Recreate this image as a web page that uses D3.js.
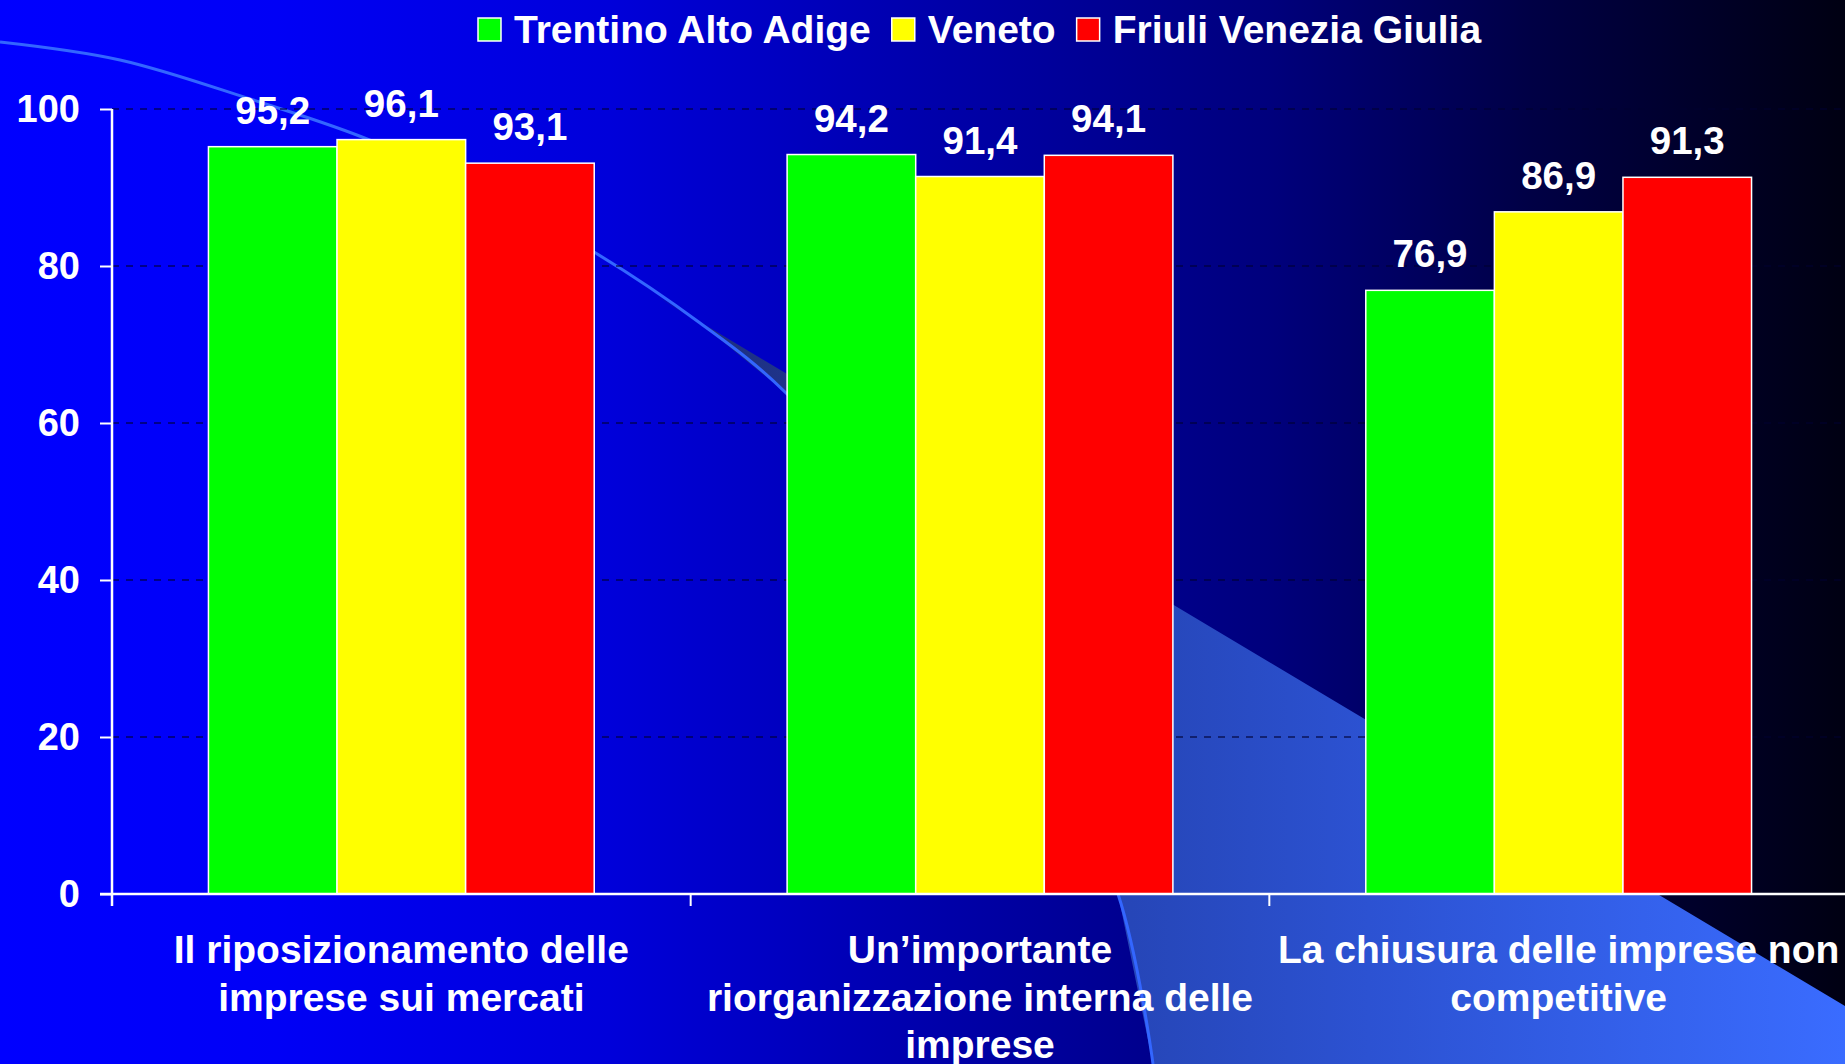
<!DOCTYPE html>
<html>
<head>
<meta charset="utf-8">
<script src="https://cdn.jsdelivr.net/npm/d3@7"></script>
<style>
  html, body { margin: 0; padding: 0; background: #000; }
  svg { display: block; }
  text { font-family: "Liberation Sans", Arial, sans-serif; font-weight: bold; fill: #ffffff; }
</style>
</head>
<body>
<svg id="chart" width="1845" height="1064"></svg>
<script>
// ---- data ----
const categories = [
  "Il riposizionamento delle imprese sui mercati",
  "Un’importante riorganizzazione interna delle imprese",
  "La chiusura delle imprese non competitive"
];
const categoryLines = [
  ["Il riposizionamento delle", "imprese sui mercati"],
  ["Un’importante", "riorganizzazione interna delle", "imprese"],
  ["La chiusura delle imprese non", "competitive"]
];
const seriesNames = ["Trentino Alto Adige", "Veneto", "Friuli Venezia Giulia"];
const trentinoValues = [95.2, 94.2, 76.9];
const venetoValues = [96.1, 91.4, 86.9];
const friuliValues = [93.1, 94.1, 91.3];
const seriesColors = ["#00ff00", "#ffff00", "#ff0000"];
const yTickValues = [0, 20, 40, 60, 80, 100];

const seriesValues = [trentinoValues, venetoValues, friuliValues];

// ---- layout ----
const W = 1845, H = 1064;
const plot = { left: 112, right: 1848, top: 109, bottom: 894 };
const svg = d3.select("#chart");
const defs = svg.append("defs");

// background gradient
const bg = defs.append("linearGradient").attr("id", "bg")
  .attr("gradientUnits", "userSpaceOnUse").attr("x1", 0).attr("y1", 0).attr("x2", W).attr("y2", 0);
[[0, "#0000ff"], [0.15, "#0000f6"], [0.33, "#0000da"], [0.5, "#0000ac"], [0.69, "#00007c"], [0.83, "#000045"], [1, "#000012"]]
  .forEach(([o, c]) => bg.append("stop").attr("offset", o).attr("stop-color", c));
svg.append("rect").attr("width", W).attr("height", H).attr("fill", "url(#bg)");

// decorative wedge gradient
const wg = defs.append("linearGradient").attr("id", "wedge")
  .attr("gradientUnits", "userSpaceOnUse").attr("x1", 655).attr("y1", 0).attr("x2", W).attr("y2", 0);
[[0, "#1c2c78"], [0.4, "#2646b8"], [0.6, "#2c52d2"], [1, "#3a6cff"]]
  .forEach(([o, c]) => wg.append("stop").attr("offset", o).attr("stop-color", c));

// decorative arc (template artwork)
const arcPts = [[0, 42], [120, 60], [250, 99], [362, 137], [480, 190], [594, 252], [700, 323], [785, 392], [1000, 640], [1118, 894], [1153, 1064]];
const arcLine = d3.line().curve(d3.curveCatmullRom.alpha(0.5));
const wedgeArc = arcPts.filter(p => p[0] >= 655);
const wedgePts = [[655, 295]].concat(wedgeArc, [[W, H], [W, 1006]]);
svg.append("path").attr("d", d3.line().curve(d3.curveLinear)(wedgePts) + "Z")
  .attr("fill", "url(#wedge)");
svg.append("path").attr("d", arcLine(arcPts)).attr("fill", "none")
  .attr("stroke", "#3366ff").attr("stroke-width", 3);

// ---- scales ----
const x0 = d3.scaleBand().domain(d3.range(categories.length)).range([plot.left, plot.right]).paddingInner(0).paddingOuter(0);
const x1 = d3.scaleBand().domain(d3.range(seriesNames.length)).range([0, x0.bandwidth()]).paddingInner(0).paddingOuter(0.75);
const y = d3.scaleLinear().domain([0, 100]).range([plot.bottom, plot.top]);

// gridlines
svg.append("g").selectAll("line").data(yTickValues.filter(v => v > 0)).join("line")
  .attr("x1", plot.left).attr("x2", W)
  .attr("y1", d => y(d)).attr("y2", d => y(d))
  .attr("stroke", "#000030").attr("stroke-opacity", 0.75)
  .attr("stroke-width", 1.5).attr("stroke-dasharray", "7,7");

// bars
const fmt = d3.formatLocale({ decimal: ",", thousands: ".", grouping: [3], currency: ["", "€"] }).format(".1f");
const groups = svg.append("g").selectAll("g").data(categories).join("g")
  .attr("transform", (d, i) => `translate(${x0(i)},0)`);
groups.selectAll("rect").data((d, i) => seriesValues.map((s, j) => ({ v: s[i], j }))).join("rect")
  .attr("x", d => x1(d.j)).attr("width", x1.bandwidth())
  .attr("y", d => y(d.v)).attr("height", d => y(0) - y(d.v))
  .attr("fill", d => seriesColors[d.j])
  .attr("stroke", "#ffffff").attr("stroke-width", 1.5);
groups.selectAll("text.val").data((d, i) => seriesValues.map((s, j) => ({ v: s[i], j }))).join("text")
  .attr("class", "val")
  .attr("x", d => x1(d.j) + x1.bandwidth() / 2)
  .attr("y", d => y(d.v) - 23)
  .attr("text-anchor", "middle")
  .style("font-size", "38.5px")
  .text(d => fmt(d.v));

// y axis
const yAxis = d3.axisLeft(y).tickValues(yTickValues).tickSize(12).tickSizeOuter(0).tickPadding(20).tickFormat(d3.format("d"));
const gy = svg.append("g").attr("transform", `translate(${plot.left},0)`).call(yAxis);
gy.select(".domain").attr("stroke", "#fff").attr("stroke-width", 2.5)
  .attr("d", `M0,${plot.top}V${plot.bottom + 12}`);
gy.selectAll(".tick line").attr("stroke", "#fff").attr("stroke-width", 2);
gy.selectAll(".tick text").style("font-size", "38px").attr("fill", "#fff")
  .attr("font-family", null).attr("dy", "0.33em");

// x axis
svg.append("line").attr("x1", plot.left - 12).attr("x2", W)
  .attr("y1", y(0)).attr("y2", y(0)).attr("stroke", "#fff").attr("stroke-width", 2.5);
const boundaries = d3.range(categories.length).map(i => x0(i));
svg.append("g").selectAll("line").data(boundaries).join("line")
  .attr("x1", d => d).attr("x2", d => d)
  .attr("y1", y(0)).attr("y2", y(0) + 12)
  .attr("stroke", "#fff").attr("stroke-width", 2);

// category labels
const lbl = svg.append("g").selectAll("text").data(categoryLines).join("text")
  .attr("text-anchor", "middle")
  .attr("x", (d, i) => x0(i) + x0.bandwidth() / 2)
  .attr("y", y(0) + 69)
  .style("font-size", "39px");
lbl.selectAll("tspan").data(d => d).join("tspan")
  .attr("x", function () { return d3.select(this.parentNode).attr("x"); })
  .attr("dy", (d, k) => k === 0 ? 0 : 47.5)
  .text(d => d);

// legend
const leg = svg.append("g");
let lx = 478;
seriesNames.forEach((name, j) => {
  leg.append("rect").attr("x", lx).attr("y", 18).attr("width", 23).attr("height", 23)
    .attr("fill", seriesColors[j]).attr("stroke", "#ffffff").attr("stroke-width", 1.5);
  const t = leg.append("text").attr("x", lx + 36).attr("y", 43).style("font-size", "39px").text(name);
  lx += 36 + t.node().getComputedTextLength() + 21;
});
</script>
</body>
</html>
